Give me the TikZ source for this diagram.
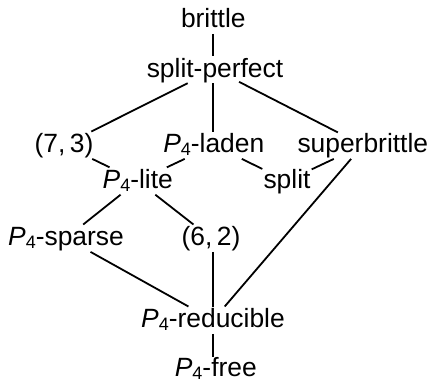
\documentclass[tikz,border=0pt]{standalone}
\usepackage{fontspec}
\setmainfont{Liberation Sans}
\newcommand{\Pfour}{\textit{P}\raisebox{-3pt}{\fontsize{18}{18}\selectfont 4}}
\begin{document}
\begin{tikzpicture}[x=1pt,y=-1pt,
  cls/.style={anchor=base, inner sep=1pt, text height=20pt, text depth=5pt,
    font=\fontsize{26.4}{30}\selectfont},
  edge/.style={line width=1.8pt}]
\useasboundingbox (0,0) rectangle (431,383);

% graph classes
\node[cls] (br)     at (213.3, 27.7) {brittle};
\node[cls] (sp)     at (215, 77)     {split-perfect};
\node[cls] (c73)    at (64, 152.7)   {(7,\,3)};
\node[cls] (pl)     at (213.8, 152.7) {\Pfour-laden};
\node[cls] (sb)     at (362.8, 152.7) {superbrittle};
\node[cls] (lite)   at (137.8, 188.5) {\Pfour-lite};
\node[cls] (spl)    at (287, 188.5)  {split};
\node[cls] (sparse) at (66, 245.7)   {\Pfour-sparse};
\node[cls] (c62)    at (211, 245.7)  {(6,\,2)};
\node[cls] (red)    at (213, 327.7)  {\Pfour-reducible};
\node[cls, text depth=3pt, inner ysep=0pt] (free) at (215.8, 376.5) {\Pfour-free};

% inclusions
\draw[edge] (br) -- (br |- sp.north);
\draw[edge] (sp) -- (c73);
\draw[edge] (sp.south -| br) -- (br |- pl.north);
\draw[edge, shorten <=-3pt, shorten >=-2pt] (sp) -- (sb);
\draw[edge] (c73) -- (lite);
\draw[edge] (pl) -- (lite);
\draw[edge] (pl) -- (spl);
\draw[edge] (sb) -- (spl);
\draw[edge] (sb) -- (red);
\draw[edge] (lite) -- (sparse);
\draw[edge] (lite) -- (c62);
\draw[edge] (sparse) -- (red);
\draw[edge] (c62.south -| br) -- (br |- red.north);
\draw[edge] (red.south -| br) -- ([yshift=-1pt]br |- free.north);
\end{tikzpicture}
\end{document}
